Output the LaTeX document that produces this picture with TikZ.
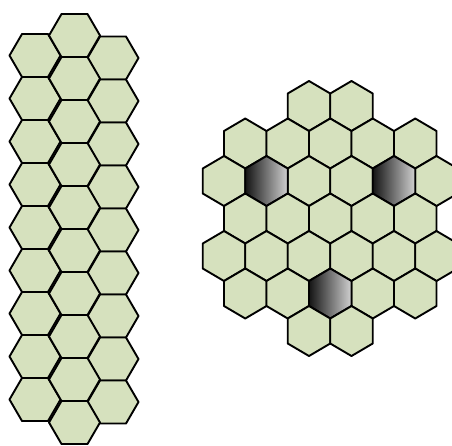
\documentclass[tikz,border=0pt]{standalone}
\usepackage{xcolor}
\usepackage{tikz}
\usetikzlibrary{calc}

\begin{document}
\begin{tikzpicture}[x=1pt,y=-1pt,
  hexcell/.style={draw=black,line width=1.9pt,line join=round,fill=cellColor},
  hexdark/.style={draw=black,line width=1.9pt,line join=round,left color=black!92,right color=black!18},
  flatcell/.style={insert path={(-25.5,0) -- (-13,-21.5) -- (13,-21.5) -- (25.5,0) -- (13,21.5) -- (-13,21.5) -- cycle}},
  pointycell/.style={insert path={(0,-25) -- (21.25,-12.5) -- (21.25,12.5) -- (0,25) -- (-21.25,12.5) -- (-21.25,-12.5) -- cycle}}]
\definecolor{cellColor}{RGB}{214,225,190}
\useasboundingbox (0,0) rectangle (452,445);
\clip (0,0) rectangle (452,445);

% strip of three columns
\foreach \row in {0,...,8}
  \path[hexcell,shift={(35,55.5+43*\row)},flatcell];
\foreach \row in {0,...,8}
  \path[hexcell,shift={(113,58+43*\row)},flatcell];
\foreach \row in {0,...,9}
  \path[hexcell,shift={(74.5,35.5+43*\row)},flatcell];

% cluster
\foreach \k in {2,3}
  \path[hexcell,shift={(224+42.5*\k,106)},pointycell];
\foreach \k in {0,...,4}
  \path[hexcell,shift={(245.25+42.5*\k,143.5)},pointycell];
\foreach \k in {0,2,3,5}
  \path[hexcell,shift={(224+42.5*\k,181)},pointycell];
\foreach \k in {1,4}
  \path[hexdark,shift={(224+42.5*\k,181)},pointycell];
\foreach \k in {0,...,4}
  \path[hexcell,shift={(245.25+42.5*\k,218.5)},pointycell];
\foreach \k in {0,...,5}
  \path[hexcell,shift={(224+42.5*\k,256)},pointycell];
\foreach \k in {0,1,3,4}
  \path[hexcell,shift={(245.25+42.5*\k,293.5)},pointycell];
\path[hexdark,shift={(330.25,293.5)},pointycell];
\foreach \k in {2,3}
  \path[hexcell,shift={(224+42.5*\k,331)},pointycell];
\end{tikzpicture}
\end{document}
